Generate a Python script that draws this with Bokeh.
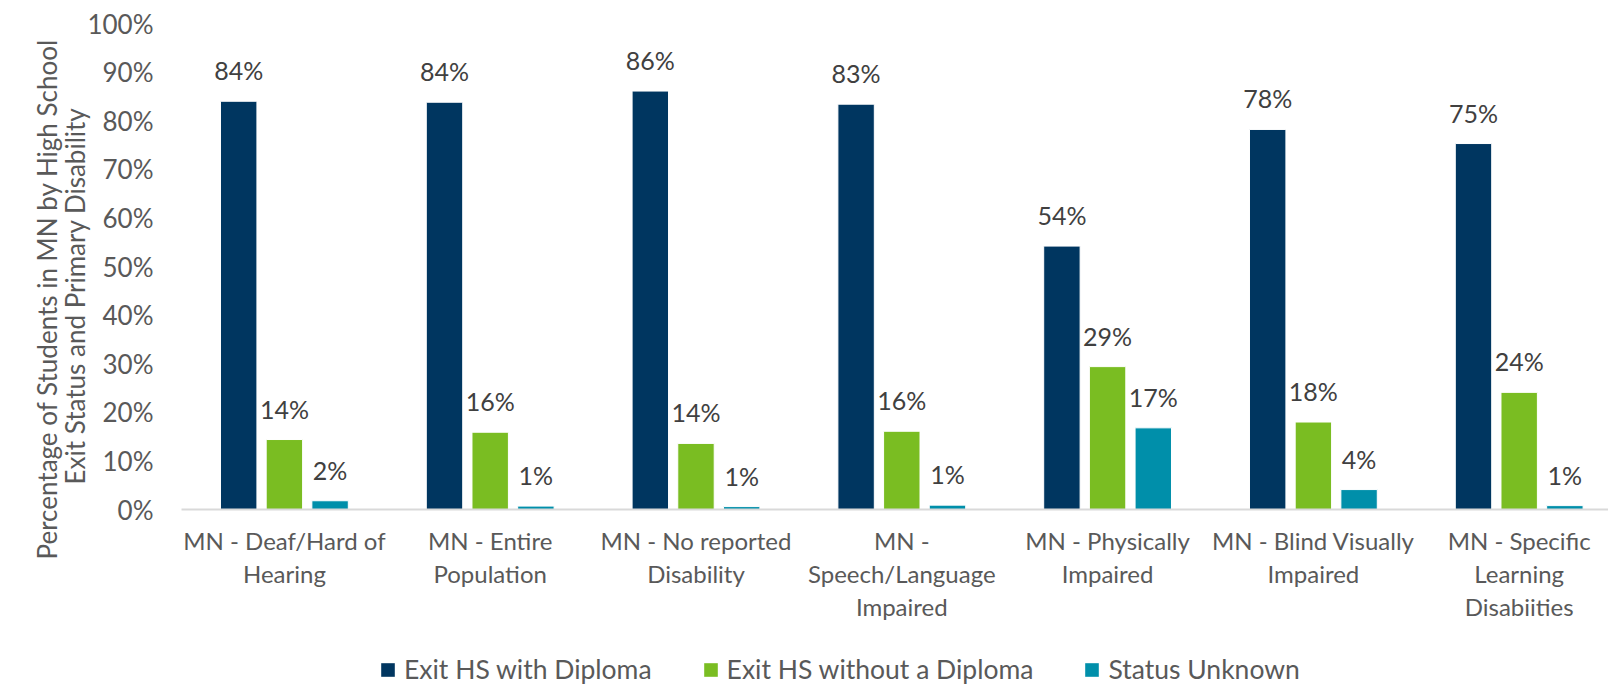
from bokeh.plotting import figure
from bokeh.layouts import column
from bokeh.models import (Range1d, FixedTicker, PrintfTickFormatter, ColumnDataSource,
                          Legend, LegendItem, Title)
from bokeh.core.properties import value
from bokeh.embed import file_html
from bokeh.resources import INLINE

categories = [
    "MN - Deaf/Hard of\nHearing",
    "MN - Entire\nPopulation",
    "MN - No reported\nDisability",
    "MN -\nSpeech/Language\nImpaired",
    "MN - Physically\nImpaired",
    "MN - Blind Visually\nImpaired",
    "MN - Specific\nLearning\nDisabiities",
]
series_names = ["Exit HS with Diploma", "Exit HS without a Diploma", "Status Unknown"]
with_diploma = [84.0, 83.8, 86.1, 83.4, 54.2, 78.2, 75.3]
without_diploma = [14.4, 15.9, 13.6, 16.1, 29.4, 18.0, 24.1]
status_unknown = [1.8, 0.7, 0.6, 0.9, 16.8, 4.1, 0.8]
colors = ["#003660", "#7ABD22", "#008FAA"]
y_ticks = [0, 10, 20, 30, 40, 50, 60, 70, 80, 90, 100]
y_title = ["Percentage of Students in MN by High School", "Exit Status and Primary Disability"]

FONT = "Lato"
W = 1608
H_MAIN, H_LEG = 634, 51

p = figure(width=W, height=H_MAIN, output_backend="svg", toolbar_location=None,
           x_range=Range1d(-0.5, 6.434), y_range=Range1d(0, 100),
           min_border_left=181, min_border_top=23, min_border_right=0,
           min_border_bottom=H_MAIN - 509)
p.outline_line_color = None
p.xgrid.visible = False
p.ygrid.visible = False

series = [with_diploma, without_diploma, status_unknown]
offsets = [-0.222, 0.0, 0.222]
bar_w = 0.177
for vals, off, col in zip(series, offsets, colors):
    xs = [i + off for i in range(len(categories))]
    src = ColumnDataSource(dict(x=xs, top=vals,
                                lab=["%d%%" % round(v) for v in vals]))
    p.vbar(x="x", top="top", width=bar_w, bottom=0, source=src,
           fill_color=col, line_color="white", line_width=1)
    p.text(x="x", y="top", text="lab", source=src, text_align="center",
           text_baseline="middle", y_offset=-31, text_color="#404040",
           text_font=value(FONT), text_font_size="25px")

# axes
xa = p.xaxis[0]
xa.ticker = FixedTicker(ticks=list(range(len(categories))))
xa.major_label_overrides = {i: c for i, c in enumerate(categories)}
xa.major_tick_in = 0
xa.major_tick_out = 0
xa.minor_tick_line_color = None
xa.axis_line_color = "#D9D9D9"
xa.axis_line_width = 2
xa.major_label_standoff = 16
xa.major_label_text_font = FONT
xa.major_label_text_font_size = "24px"
xa.major_label_text_color = "#595959"
xa.major_label_text_line_height = 1.151

ya = p.yaxis[0]
ya.ticker = FixedTicker(ticks=y_ticks)
ya.formatter = PrintfTickFormatter(format="%d%%")
ya.axis_line_color = None
ya.major_tick_line_color = None
ya.minor_tick_line_color = None
ya.major_label_standoff = 22
ya.major_label_text_font = FONT
ya.major_label_text_font_size = "26px"
ya.major_label_text_color = "#595959"

# y title (two lines), closest-to-axis line added first
for txt, off, so in [(y_title[1], 25, -13), (y_title[0], -50, 2)]:
    p.add_layout(Title(text=txt, align="left", offset=off, standoff=so,
                       text_font=FONT, text_font_size="26px",
                       text_font_style="normal", text_color="#595959"), "left")

# legend strip
p2 = figure(width=W, height=H_LEG, output_backend="svg", toolbar_location=None,
            x_range=Range1d(0, 1), y_range=Range1d(0, 1), min_border=0)
p2.axis.visible = False
p2.xgrid.visible = False
p2.ygrid.visible = False
p2.outline_line_color = None
items = []
for col, name in zip(colors, series_names):
    r = p2.vbar(x=[0], top=[0], bottom=[0], width=0.01, fill_color=col, line_color=None)
    items.append(LegendItem(label=name, renderers=[r]))
legend = Legend(items=items, orientation="horizontal", location=(198, 0),
                glyph_width=17, glyph_height=17, label_standoff=8, spacing=50,
                padding=0, margin=0, border_line_color=None, background_fill_alpha=0,
                label_text_font=FONT, label_text_font_size="26.5px",
                label_text_color="#595959")
p2.add_layout(legend, "center")

open("out.html", "w").write(file_html(column(p, p2, spacing=0), INLINE))
